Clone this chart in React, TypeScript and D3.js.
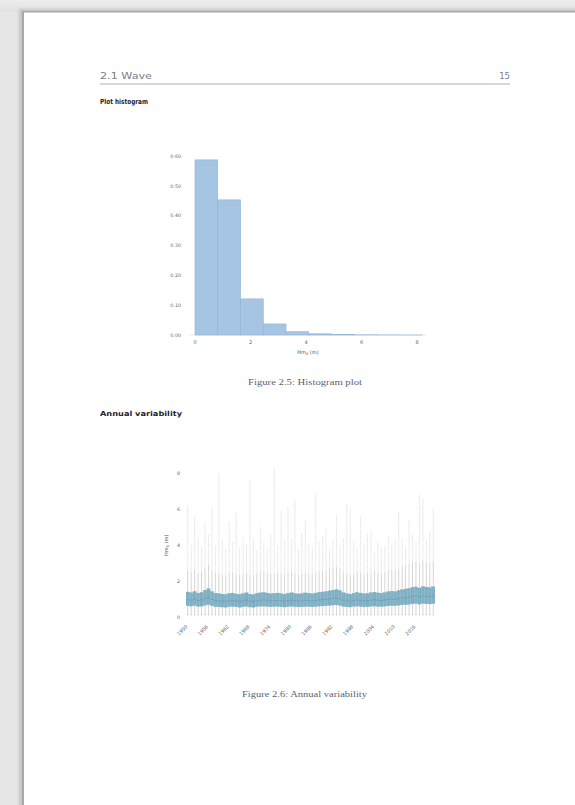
import React from 'react';
import * as d3 from 'd3';

// ---------- Histogram data ----------
const histEdges = [0, 0.82, 1.64, 2.46, 3.28, 4.1, 4.92, 5.74, 6.56, 7.38, 8.2];
const histDensity = [0.587, 0.453, 0.121, 0.037, 0.011, 0.004, 0.0015, 0.0006, 0.0003, 0.0001];
const histYTicks = [0, 0.1, 0.2, 0.3, 0.4, 0.5, 0.6];
const histXTicks = [0, 2, 4, 6, 8];

// ---------- Annual boxplot data ----------
const years = [
  '1950','1951','1952','1953','1954','1955','1956','1957','1958','1959',
  '1960','1961','1962','1963','1964','1965','1966','1967','1968','1969',
  '1970','1971','1972','1973','1974','1975','1976','1977','1978','1979',
  '1980','1981','1982','1983','1984','1985','1986','1987','1988','1989',
  '1990','1991','1992','1993','1994','1995','1996','1997','1998','1999',
  '2000','2001','2002','2003','2004','2005','2006','2007','2008','2009',
  '2010','2011','2012','2013','2014','2015','2016','2017','2018','2019',
  '2020','2021'
];
const yearTickLabels = ['1950','1956','1962','1968','1974','1980','1986','1992','1998','2004','2010','2016'];

const q3 = [1.42,1.38,1.45,1.36,1.40,1.52,1.60,1.44,1.35,1.33,1.30,1.28,1.34,1.36,1.31,1.29,1.33,1.38,1.30,1.28,
  1.35,1.37,1.40,1.36,1.32,1.34,1.36,1.33,1.30,1.35,1.38,1.34,1.31,1.33,1.37,1.35,1.32,1.36,1.40,1.42,
  1.45,1.48,1.52,1.55,1.50,1.38,1.33,1.30,1.35,1.40,1.36,1.32,1.34,1.38,1.41,1.37,1.35,1.39,1.43,1.46,
  1.44,1.50,1.55,1.58,1.62,1.68,1.70,1.64,1.72,1.69,1.66,1.71];
const med = [1.00,0.97,1.02,0.95,0.98,1.06,1.10,1.01,0.94,0.93,0.91,0.90,0.94,0.95,0.92,0.90,0.93,0.97,0.91,0.90,
  0.95,0.96,0.98,0.95,0.93,0.94,0.95,0.93,0.91,0.94,0.97,0.94,0.92,0.93,0.96,0.95,0.93,0.95,0.98,1.00,
  1.02,1.04,1.07,1.09,1.05,0.97,0.93,0.91,0.95,0.98,0.95,0.93,0.94,0.97,0.99,0.96,0.95,0.98,1.01,1.03,
  1.02,1.06,1.09,1.11,1.14,1.18,1.20,1.15,1.21,1.19,1.17,1.20];
const q1 = [0.66,0.64,0.67,0.62,0.64,0.69,0.72,0.66,0.61,0.60,0.59,0.58,0.61,0.62,0.60,0.58,0.60,0.63,0.59,0.58,
  0.62,0.63,0.64,0.62,0.60,0.61,0.62,0.60,0.59,0.61,0.63,0.61,0.60,0.60,0.62,0.62,0.60,0.62,0.64,0.65,
  0.66,0.68,0.70,0.71,0.68,0.63,0.60,0.59,0.62,0.64,0.62,0.60,0.61,0.63,0.64,0.62,0.62,0.64,0.66,0.67,
  0.66,0.69,0.71,0.72,0.74,0.77,0.78,0.75,0.79,0.77,0.76,0.78];
const maxV = [6.2,4.1,5.6,4.4,3.9,5.3,4.6,6.1,4.0,8.0,
  4.3,3.8,5.3,4.2,5.8,3.9,4.5,4.1,7.6,4.4,
  3.7,5.0,4.2,3.9,4.6,8.3,4.0,5.9,4.3,6.1,
  4.4,6.5,3.8,4.7,5.4,4.1,3.9,6.9,4.2,4.5,
  4.9,3.8,4.3,5.7,4.0,4.4,6.3,6.0,4.2,3.9,
  5.6,4.1,4.6,4.9,3.7,4.2,3.8,4.0,4.5,4.1,
  4.3,5.9,4.4,3.9,5.4,4.6,4.2,6.8,6.6,4.3,
  4.8,6.0];
const dataMin = 0.15;
const boxYTicks = [0, 2, 4, 6, 8];

const sans = "'DejaVu Sans', sans-serif";
const serif = "'Liberation Serif', 'DejaVu Serif', serif";

function Histogram() {
  const x = d3.scaleLinear().domain([0, 8]).range([195, 417]);
  const y = d3.scaleLinear().domain([0, 0.6]).range([335, 156]);
  const bins = histDensity.map((d, i) => ({ x0: histEdges[i], x1: histEdges[i + 1], d }));
  return (
    <g>
      <line x1={189} x2={426} y1={y(0)} y2={y(0)} stroke="#e4e4e4" strokeWidth={0.8} />
      {bins.map((b, i) => (
        <rect key={i} x={x(b.x0)} y={y(b.d)} width={x(b.x1) - x(b.x0)} height={y(0) - y(b.d)}
          fill="#a5c5e2" stroke="#8fb3d5" strokeWidth={0.6} />
      ))}
      {histYTicks.map((t) => (
        <text key={t} x={181} y={y(t)} dy="0.35em" textAnchor="end" fontSize={4.8} fill="#666" fontFamily={sans}>
          {d3.format('.2f')(t)}
        </text>
      ))}
      {histXTicks.map((t) => (
        <text key={t} x={x(t)} y={344} textAnchor="middle" fontSize={5} fill="#666" fontFamily={sans}>{t}</text>
      ))}
      <text x={308} y={354} textAnchor="middle" fontSize={5} fill="#555" fontFamily={sans}>
        Hm<tspan fontSize={3.6} dy={1.2}>0</tspan><tspan dy={-1.2}> (m)</tspan>
      </text>
    </g>
  );
}

function AnnualBoxplot() {
  const x = d3.scaleBand<string>().domain(years).range([186, 435]).paddingInner(0.1).paddingOuter(0.05);
  const y = d3.scaleLinear().domain([0, 8]).range([617.7, 472.9]);
  const bw = x.bandwidth();
  return (
    <g>
      {years.map((yr, i) => {
        const iqr = q3[i] - q1[i];
        const hi = Math.min(maxV[i], q3[i] + 1.5 * iqr);
        const lo = Math.max(dataMin, q1[i] - 1.5 * iqr);
        const cx = (x(yr) as number) + bw / 2;
        return (
          <g key={yr}>
            <line x1={cx} x2={cx} y1={y(hi)} y2={y(maxV[i])} stroke="#d6d6d6" strokeWidth={0.7} strokeDasharray="1.2 0.6" />
            <line x1={cx} x2={cx} y1={y(q3[i])} y2={y(hi)} stroke="#aaaaaa" strokeWidth={0.5} />
            <line x1={cx} x2={cx} y1={y(q1[i])} y2={y(lo)} stroke="#aaaaaa" strokeWidth={0.5} />
            <line x1={cx - bw / 4} x2={cx + bw / 4} y1={y(lo)} y2={y(lo)} stroke="#aaaaaa" strokeWidth={0.4} />
          </g>
        );
      })}
      {years.map((yr, i) => (
        <rect key={yr} x={x(yr)} y={y(q3[i])} width={bw} height={y(q1[i]) - y(q3[i])}
          fill="#7fb2c6" stroke="#6a9cb1" strokeWidth={0.3} />
      ))}
      {years.map((yr, i) => (
        <line key={yr} x1={x(yr) as number} x2={(x(yr) as number) + bw} y1={y(med[i])} y2={y(med[i])}
          stroke="#5a8599" strokeWidth={0.4} />
      ))}
      {boxYTicks.map((t) => (
        <text key={t} x={180} y={y(t)} dy="0.35em" textAnchor="end" fontSize={4.8} fill="#666" fontFamily={sans}>{t}</text>
      ))}
      <text transform={`translate(168,${y(4)}) rotate(-90)`} textAnchor="middle" fontSize={5} fill="#555" fontFamily={sans}>
        Hm<tspan fontSize={3.6} dy={1.2}>0</tspan><tspan dy={-1.2}> (m)</tspan>
      </text>
      {yearTickLabels.map((yr) => {
        const cx = (x(yr) as number) + bw / 2;
        return (
          <text key={yr} transform={`translate(${cx},627) rotate(-45)`} textAnchor="end" fontSize={4.8}
            fill="#666" fontFamily={sans}>{yr}</text>
        );
      })}
    </g>
  );
}

export default function App() {
  return (
    <svg width={575} height={805} style={{ position: 'absolute', left: 0, top: 0, display: 'block' }}>
      <defs>
        <linearGradient id="topg" x1="0" y1="0" x2="0" y2="1">
          <stop offset="0" stopColor="#ececec" />
          <stop offset="1" stopColor="#e2e2e2" />
        </linearGradient>
        <filter id="blur" x="-5%" y="-5%" width="110%" height="110%">
          <feGaussianBlur stdDeviation="1.5" />
        </filter>
      </defs>
      <rect x={0} y={0} width={575} height={805} fill="#e6e6e6" />
      <rect x={0} y={0} width={575} height={12} fill="url(#topg)" />
      <rect x={19} y={9} width={560} height={800} fill="#c4c4c4" filter="url(#blur)" />
      <rect x={22} y={11} width={555} height={800} fill="#a9a9a9" />
      <rect x={24} y={12.5} width={555} height={800} fill="#ffffff" />

      {/* running header */}
      <text x={100} y={79} fontSize={8.5} fill="#7a7d8a" fontFamily={sans} textLength={52} lengthAdjust="spacingAndGlyphs">2.1 Wave</text>
      <text x={510} y={79} fontSize={8.5} fill="#7a7d8a" fontFamily={sans} textAnchor="end">15</text>
      <line x1={100} x2={510} y1={84} y2={84} stroke="#9a9a9a" strokeWidth={0.8} />

      <text x={100} y={103.5} fontSize={7} fontWeight="bold" fill="#1d1d2b" fontFamily={sans} textLength={48} lengthAdjust="spacingAndGlyphs">Plot histogram</text>

      <Histogram />

      <text x={305} y={385} textAnchor="middle" fontSize={7.5} fill="#5a5f70" fontFamily={serif} textLength={114} lengthAdjust="spacingAndGlyphs">Figure 2.5: Histogram plot</text>

      <text x={100} y={415.5} fontSize={7} fontWeight="bold" fill="#1d1d2b" fontFamily={sans} textLength={82} lengthAdjust="spacingAndGlyphs">Annual variability</text>

      <AnnualBoxplot />

      <text x={304.5} y={697} textAnchor="middle" fontSize={7.5} fill="#5a5f70" fontFamily={serif} textLength={125} lengthAdjust="spacingAndGlyphs">Figure 2.6: Annual variability</text>
    </svg>
  );
}
